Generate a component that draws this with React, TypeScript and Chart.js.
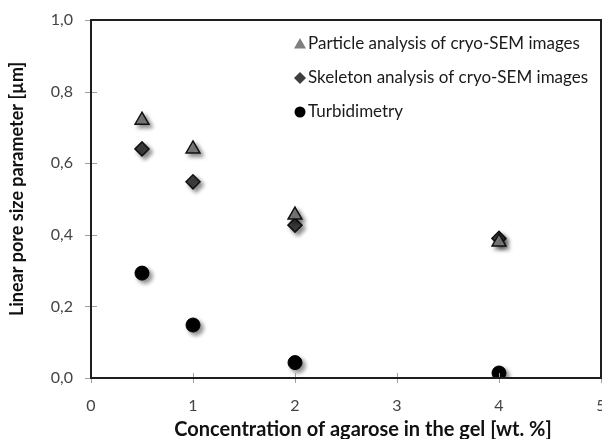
import React, { useEffect, useRef } from 'react';
import { Chart, registerables } from 'chart.js';
Chart.register(...registerables);

const FONT = 'Lato, "Open Sans", sans-serif';

const xValues = [0.5, 1, 2, 4];
const particleValues = [0.72, 0.64, 0.455, 0.38];
const skeletonValues = [0.64, 0.548, 0.427, 0.39];
const turbidityValues = [0.293, 0.148, 0.043, 0.014];
const seriesLabels = [
  'Particle analysis of cryo-SEM images',
  'Skeleton analysis of cryo-SEM images',
  'Turbidimetry',
];
const xTitle = 'Concentration of agarose in the gel [wt. %]';
const yTitle = 'Linear pore size parameter [µm]';

function drawMarker(ctx: CanvasRenderingContext2D, style: string, x: number, y: number, r: number, fill: string) {
  ctx.beginPath();
  if (style === 'triangle') {
    ctx.moveTo(x, y - r);
    ctx.lineTo(x + r * 1.0, y + r * 0.75);
    ctx.lineTo(x - r * 1.0, y + r * 0.75);
    ctx.closePath();
  } else if (style === 'rectRot') {
    ctx.moveTo(x, y - r);
    ctx.lineTo(x + r, y);
    ctx.lineTo(x, y + r);
    ctx.lineTo(x - r, y);
    ctx.closePath();
  } else {
    ctx.arc(x, y, r, 0, Math.PI * 2);
  }
  ctx.fillStyle = fill;
  ctx.fill();
}

export default function App() {
  const ref = useRef<HTMLCanvasElement>(null);
  useEffect(() => {
    if (!ref.current) return;
    const framePlugin = {
      id: 'framePlugin',
      beforeDatasetsDraw(chart: any) {
        const ctx = chart.ctx;
        ctx.save();
        ctx.shadowColor = 'rgba(0,0,0,0.45)';
        ctx.shadowBlur = 4;
        ctx.shadowOffsetX = 3;
        ctx.shadowOffsetY = 3;
      },
      afterDatasetsDraw(chart: any) {
        const ctx = chart.ctx;
        ctx.restore();
        const a = chart.chartArea;
        ctx.save();
        // crossing ticks
        ctx.strokeStyle = '#a0a0a0';
        ctx.lineWidth = 1;
        const xs = chart.scales.x;
        const ys = chart.scales.y;
        xs.ticks.forEach((t: any) => {
          const px = Math.round(xs.getPixelForValue(t.value)) + 0.5;
          ctx.beginPath();
          ctx.moveTo(px, a.bottom - 5);
          ctx.lineTo(px, a.bottom + 5);
          ctx.stroke();
        });
        ys.ticks.forEach((t: any) => {
          const py = Math.round(ys.getPixelForValue(t.value)) + 0.5;
          ctx.beginPath();
          ctx.moveTo(a.left - 6, py);
          ctx.lineTo(a.left + 6, py);
          ctx.stroke();
        });
        // frame
        ctx.strokeStyle = '#1e1e1e';
        ctx.lineWidth = 2;
        ctx.strokeRect(a.left, a.top, a.right - a.left, a.bottom - a.top);
        // axis titles
        ctx.fillStyle = '#111';
        ctx.font = 'bold 20px ' + FONT;
        ctx.textAlign = 'center';
        ctx.textBaseline = 'middle';
        ctx.fillText(xTitle, 363, 430);
        ctx.save();
        ctx.translate(17, 189);
        ctx.rotate(-Math.PI / 2);
        ctx.font = 'bold 18px ' + FONT;
        ctx.fillText(yTitle, 0, 0);
        ctx.restore();
        // legend
        const rowYs = [44, 78, 112];
        ctx.font = '17px ' + FONT;
        ctx.textBaseline = 'middle';
        ctx.textAlign = 'left';
        chart.data.datasets.forEach((ds: any, i: number) => {
          const my = rowYs[i];
          const r = ds.pointStyle === 'circle' ? 5.5 : 6;
          const fill = ds.pointStyle === 'triangle' ? '#7f7f7f' : ds.pointStyle === 'rectRot' ? '#3f3f3f' : '#000';
          drawMarker(ctx, ds.pointStyle, 300, my, r, fill);
          ctx.fillStyle = '#1a1a1a';
          ctx.fillText(ds.label, 308, my);
        });
        ctx.restore();
      },
    };
    const chart = new Chart(ref.current, {
      type: 'scatter',
      data: {
        datasets: [
          {
            label: seriesLabels[0],
            data: xValues.map((x, i) => ({ x, y: particleValues[i] })),
            pointStyle: 'triangle',
            pointRadius: 8,
            backgroundColor: '#808080',
            borderColor: '#111',
            borderWidth: 1.5,
          },
          {
            label: seriesLabels[1],
            data: xValues.map((x, i) => ({ x, y: skeletonValues[i] })),
            pointStyle: 'rectRot',
            pointRadius: 7,
            backgroundColor: '#404040',
            borderColor: '#111',
            borderWidth: 1.5,
          },
          {
            label: seriesLabels[2],
            data: xValues.map((x, i) => ({ x, y: turbidityValues[i] })),
            pointStyle: 'circle',
            pointRadius: 7,
            backgroundColor: '#000',
            borderColor: '#000',
            borderWidth: 1,
          },
        ],
      },
      options: {
        responsive: false,
        animation: false,
        layout: { autoPadding: false, padding: { top: 20, right: 1, left: 0, bottom: 0 } },
        plugins: { legend: { display: false }, tooltip: { enabled: false } },
        scales: {
          x: {
            type: 'linear',
            min: 0,
            max: 5,
            ticks: {
              stepSize: 1,
              padding: 18,
              color: '#444',
              font: { family: FONT, size: 16 },
              maxRotation: 0,
            },
            grid: { display: false, drawTicks: false },
            border: { display: false },
            afterFit(s: any) {
              s.height = 61;
              s.paddingLeft = 0;
              s.paddingRight = 0;
            },
          },
          y: {
            type: 'linear',
            min: 0,
            max: 1,
            ticks: {
              stepSize: 0.2,
              padding: 18,
              color: '#444',
              font: { family: FONT, size: 16 },
              callback: (v: any) => Number(v).toFixed(1).replace('.', ','),
            },
            grid: { display: false, drawTicks: false },
            border: { display: false },
            afterFit(s: any) {
              s.width = 91;
              s.paddingTop = 0;
              s.paddingBottom = 0;
            },
          },
        },
      },
      plugins: [framePlugin],
    } as any);
    return () => chart.destroy();
  }, []);
  return (
    <div style={{ position: 'fixed', left: 0, top: 0, width: 602, height: 439, background: '#fff' }}>
      <canvas ref={ref} width={602} height={439} style={{ display: 'block' }} />
    </div>
  );
}
